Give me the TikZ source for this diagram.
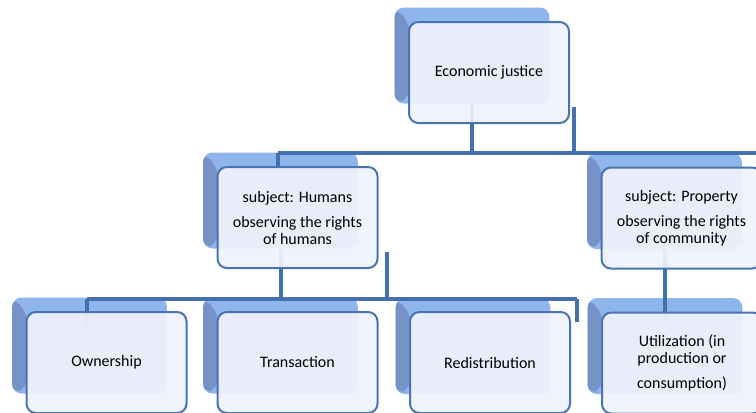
\documentclass[tikz,border=0pt]{standalone}
\usepackage{fontspec}
\setmainfont{Carlito}
\usetikzlibrary{positioning}
\definecolor{lnblue}{RGB}{68,112,174}
\definecolor{bxline}{RGB}{72,116,180}
\definecolor{bxfill}{RGB}{240,242,250}
\definecolor{shblue}{RGB}{143,182,236}
\definecolor{shdark}{RGB}{118,146,198}

\begin{document}
\begin{tikzpicture}
	[x=0.75pt,y=-0.75pt,
	box/.style={draw=bxline,line width=1.5pt,fill=bxfill,fill opacity=0.93,text opacity=1,
		rounded corners=7pt,minimum width=120pt,minimum height=75.75pt,align=center,inner sep=2pt},
	shbox/.style={fill=shblue,rounded corners=7pt,minimum width=116pt,minimum height=72pt,
		path picture={\fill[shdark] (path picture bounding box.north west)
			-- ([shift={(11pt,-11pt)}]path picture bounding box.north west)
			-- ([shift={(11pt,4pt)}]path picture bounding box.south west)
			-- (path picture bounding box.south west) -- cycle;}},
	ln/.style={draw=lnblue,line width=3pt},
	font=\fontsize{12}{12.75}\selectfont]
	\clip (0,0) rectangle (756,412);
	%SHADOWS
	\foreach \nm/\x/\y in {ej/489/72.5,hum/297.5/217.5,prop/681.5/218,own/106.5/362.5,tra/297.5/362.5,red/490/363,uti/682/363}
	\node[shbox] (\nm s) at (\x-17,\y-17) {};
	%CONNECTORS
	\coordinate (bus1w) at (278,153);
	\coordinate (bus1e) at (760,153);
	\coordinate (k1) at (574,107);
	\coordinate (bus2w) at (87,299);
	\coordinate (bus2e) at (577,299);
	\coordinate (k2) at (387,252);
	\draw[ln] (ejs.south) -- (ejs.south |- bus1w);
	\draw[ln] (k1) -- (k1 |- bus1w);
	\draw[ln] (bus1w) -- (bus1e);
	\draw[ln] (bus1w) -- ++(0,15);
	\draw[ln] (hums.south) -- (hums.south |- bus2w);
	\draw[ln] (k2) -- (k2 |- bus2w);
	\draw[ln] (bus2w) -- (bus2e);
	\draw[ln] (bus2w) -- ++(0,26);
	\draw[ln] (bus2e) -- ++(0,23);
	\draw[ln] (props.south) -- ++(0,73);
	%BOXES
	\node[box] (ej) at (489,72.5) {Economic justice};
	\node[box] (hum) at (297.5,217.5) {subject: Humans\\[6pt]observing the rights\\of humans};
	\node[box] (prop) at (681.5,218) {subject: Property\\[6pt]observing the rights\\of community};
	\foreach \nm/\x/\txt in {own/106.5/Ownership,tra/297.5/Transaction,red/490/Redistribution}
	\node[box] (\nm) at (\x,362.5) {\txt};
	\node[box] (uti) at (682,363) {Utilization (in\\production or\\[6pt]consumption)};
\end{tikzpicture}
\end{document}
